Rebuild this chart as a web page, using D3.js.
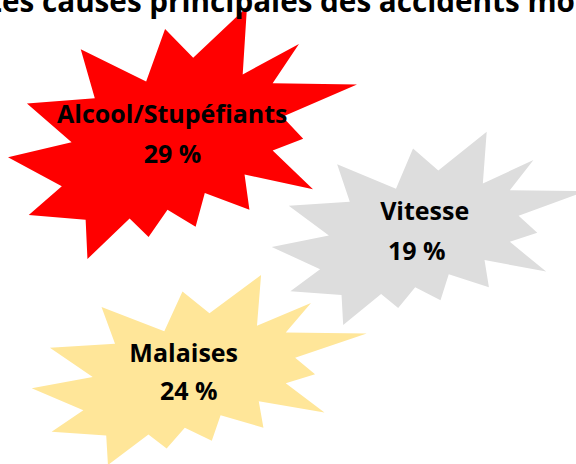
<!DOCTYPE html>
<html>
<head>
<meta charset="utf-8">
<script src="https://cdn.jsdelivr.net/npm/d3@7"></script>
<style>
  html, body { margin: 0; padding: 0; background: #fff; overflow: hidden; }
  text { font-family: "Open Sans", "DejaVu Sans", sans-serif; font-weight: 700; fill: #000; }
</style>
</head>
<body>
<div id="chart"></div>
<script>
// data
var categories = ["Alcool/Stupéfiants", "Vitesse", "Malaises"];
var values = [29, 19, 24];
var colors = ["#FF0000", "#DDDDDD", "#FFE699"];
var title = "Les causes principales des accidents mortels";

// size of the page
var w = 576, h = 464;

// explosion outline (PowerPoint irregularSeal2, 21600 units)
var seal = [[11462,4342],[14790,0],[14525,5777],[18007,3172],[16380,6532],[21600,6645],
  [16985,9402],[18270,11290],[16380,12310],[18877,15632],[14640,14350],[14942,17370],
  [12180,15935],[11612,18842],[9872,17370],[8700,19712],[7527,18125],[4917,21600],
  [4805,18240],[1285,17825],[3330,15370],[0,12877],[3935,11592],[1172,8270],
  [5372,7817],[4502,3625],[8550,6382],[9722,1887]];

// where each burst sits
var boxes = [
  {x: 8, y: 7, w: 349, h: 252},
  {x: 271.7, y: 131.7, w: 314, h: 193.3},
  {x: 31.7, y: 275, w: 335, h: 190}
];
// text line centres / baselines
var labelPos = [
  {x1: 172.3, y1: 123.3, x2: 172.5, y2: 163.3},
  {x1: 424.7, y1: 220, x2: 416.7, y2: 260},
  {x1: 183.7, y1: 361.7, x2: 188.8, y2: 400}
];

var svg = d3.select("#chart").append("svg")
  .attr("width", w)
  .attr("height", h);

var bursts = svg.selectAll("g.burst")
  .data(categories)
  .enter()
  .append("g")
  .attr("class", "burst");

bursts.append("path")
  .attr("d", function(d, i) {
    var b = boxes[i];
    var sx = d3.scaleLinear().domain([0, 21600]).range([b.x, b.x + b.w]);
    var sy = d3.scaleLinear().domain([0, 21600]).range([b.y, b.y + b.h]);
    return d3.line().x(function(p) { return sx(p[0]); }).y(function(p) { return sy(p[1]); })(seal) + "Z";
  })
  .attr("fill", function(d, i) { return colors[i]; });

var fs = 25;

bursts.append("text")
  .attr("x", function(d, i) { return labelPos[i].x1; })
  .attr("y", function(d, i) { return labelPos[i].y1; })
  .attr("text-anchor", "middle")
  .style("font-size", fs + "px")
  .text(function(d) { return d; });

bursts.append("text")
  .attr("x", function(d, i) { return labelPos[i].x2; })
  .attr("y", function(d, i) { return labelPos[i].y2; })
  .attr("text-anchor", "middle")
  .style("font-size", fs + "px")
  .text(function(d, i) { return values[i] + " %"; });

// title, wider than the page, cut on both sides
var tfs = 28;
var t = svg.append("text")
  .attr("class", "title")
  .attr("y", 11.5)
  .style("font-size", tfs + "px");
var les = t.append("tspan").text("Les ");
var rest = t.append("tspan").text("causes principales des accidents ");
var wLes = les.node().getComputedTextLength();
var wRest = rest.node().getComputedTextLength();
t.append("tspan").text("mortels");
// fit: "causes" starts at 42, "mor" starts at 520
tfs = tfs * (520 - 42) / wRest;
t.style("font-size", tfs + "px")
  .attr("x", 42 - wLes * tfs / 28);
</script>
</body>
</html>
